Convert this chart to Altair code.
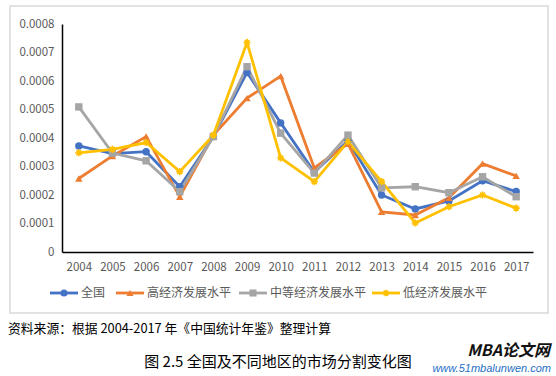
import altair as alt
import pandas as pd

years = ["2004", "2005", "2006", "2007", "2008", "2009", "2010", "2011", "2012", "2013", "2014", "2015", "2016", "2017"]
series_names = ["全国", "高经济发展水平", "中等经济发展水平", "低经济发展水平"]
national = [0.000372, 0.000345, 0.000352, 0.000229, 0.000405, 0.000630, 0.000453, 0.000280, 0.000390, 0.000200, 0.000151, 0.000179, 0.000250, 0.000212]
high = [0.000258, 0.000337, 0.000405, 0.000194, 0.000410, 0.000540, 0.000617, 0.000295, 0.000380, 0.000141, 0.000130, 0.000190, 0.000310, 0.000267]
middle = [0.000509, 0.000347, 0.000320, 0.000212, 0.000405, 0.000650, 0.000417, 0.000277, 0.000410, 0.000225, 0.000229, 0.000208, 0.000264, 0.000194]
low = [0.000348, 0.000360, 0.000384, 0.000282, 0.000410, 0.000735, 0.000330, 0.000247, 0.000387, 0.000247, 0.000102, 0.000159, 0.000200, 0.000154]
y_ticks = [0, 0.0001, 0.0002, 0.0003, 0.0004, 0.0005, 0.0006, 0.0007, 0.0008]
source_text = "资料来源：根据 2004-2017 年《中国统计年鉴》整理计算"
caption_text = "图 2.5  全国及不同地区的市场分割变化图"

colors = ["#4472C4", "#ED7D31", "#A5A5A5", "#FFC000"]
shapes = ["circle", "triangle-up", "square", "M-1,0L1,0M0,-1L0,1M-0.7,-0.7L0.7,0.7M-0.7,0.7L0.7,-0.7"]
legend_x = [64, 130, 253, 386]  # legend item centers (page px)

rows = []
for name, vals in zip(series_names, [national, high, middle, low]):
    for yr, v in zip(years, vals):
        rows.append({"year": yr, "value": v, "series": name})
df = pd.DataFrame(rows)

W, H = 471, 228
L, T = 62, 24
FONT = "Noto Sans CJK SC"

color_scale = alt.Scale(domain=series_names, range=colors)
xenc = alt.X("year:O", scale=alt.Scale(type="point", padding=0.5),
             axis=alt.Axis(title=None, labelAngle=0, labelPadding=9, domainColor="#000000", domainWidth=1.5,
                           ticks=False, labelColor="#595959", labelFontSize=11.5, labelFont=FONT, zindex=1,
                           labelOverlap=False))
yenc = alt.Y("value:Q", scale=alt.Scale(domain=[0, 0.0008], nice=False),
             axis=alt.Axis(title=None, values=y_ticks, tickCount=9, grid=False, ticks=False, labelPadding=8,
                           domainColor="#000000", domainWidth=1.5, labelColor="#595959", labelFontSize=11.5,
                           labelFont=FONT, zindex=1, labelOverlap=False,
                           labelExpr="datum.value == 0 ? '0' : format(datum.value, '.4f')"))

one = pd.DataFrame({"a": [0]})

border = alt.Chart(one).mark_rect(fillOpacity=0, stroke="#D9D9D9", strokeWidth=1.5).encode(
    x=alt.value(10 - L), x2=alt.value(548 - L), y=alt.value(6 - T), y2=alt.value(313 - T))

lines = alt.Chart(df).mark_line(strokeWidth=2.8).encode(
    x=xenc, y=yenc,
    color=alt.Color("series:N", scale=color_scale, legend=None))

pts_filled = alt.Chart(df).transform_filter(
    alt.FieldOneOfPredicate(field="series", oneOf=series_names[:3])
).mark_point(filled=True, opacity=1, size=55).encode(
    x=xenc, y=yenc,
    color=alt.Color("series:N", scale=color_scale, legend=None),
    shape=alt.Shape("series:N", scale=alt.Scale(domain=series_names[:3], range=shapes[:3]), legend=None))

pts_star = alt.Chart(df).transform_filter(
    alt.FieldEqualPredicate(field="series", equal=series_names[3])
).mark_point(filled=False, opacity=1, size=50, shape=shapes[3], strokeWidth=1.6, color=colors[3]).encode(
    x=xenc, y=yenc)

# custom legend
leg_y = 293 - T
legend_layers = []
for name, cx, col, shp in zip(series_names, legend_x, colors, shapes):
    c = cx - L
    legend_layers.append(alt.Chart(one).mark_rule(strokeWidth=2.8, color=col).encode(
        x=alt.value(c - 14), x2=alt.value(c + 14), y=alt.value(leg_y)))
    if shp.startswith("M"):
        legend_layers.append(alt.Chart(one).mark_point(filled=False, opacity=1, size=45, shape=shp,
                                                        strokeWidth=1.6, color=col).encode(
            x=alt.value(c), y=alt.value(leg_y)))
    else:
        legend_layers.append(alt.Chart(one).mark_point(filled=True, opacity=1, size=50, shape=shp, color=col).encode(
            x=alt.value(c), y=alt.value(leg_y)))
    legend_layers.append(alt.Chart(pd.DataFrame({"t": [name]})).mark_text(
        align="left", baseline="middle", fontSize=12, font=FONT, color="#595959").encode(
        x=alt.value(c + 17), y=alt.value(leg_y), text="t:N"))

def txt(s, x, y, **kw):
    return alt.Chart(pd.DataFrame({"t": [s]})).mark_text(**kw).encode(
        x=alt.value(x - L), y=alt.value(y - T), text="t:N")

src = txt(source_text, 8, 329, align="left", baseline="middle", fontSize=12.8, font=FONT, color="#000000")
cap = txt(caption_text, 278, 362, align="center", baseline="middle", fontSize=15, font=FONT, color="#000000")
wm1 = txt("MBA论文网", 550, 351, align="right", baseline="middle", fontSize=16, font=FONT,
          fontWeight="bold", fontStyle="italic", color="#111111")
wm2 = txt("www.51mbalunwen.com", 551, 369, align="right", baseline="middle", fontSize=11,
          font="Liberation Sans", fontStyle="italic", color="#1F6FC5")

chart = alt.layer(border, lines, pts_filled, pts_star, *legend_layers,
                  src, cap, wm1, wm2).properties(
    width=W, height=H,
    autosize=alt.AutoSizeParams(type="none"),
    padding={"left": L, "top": T, "right": 556 - L - W, "bottom": 376 - T - H},
    background="white"
).configure_view(strokeWidth=0)

chart.save("out.html", embed_options={"renderer": "svg", "actions": False})
